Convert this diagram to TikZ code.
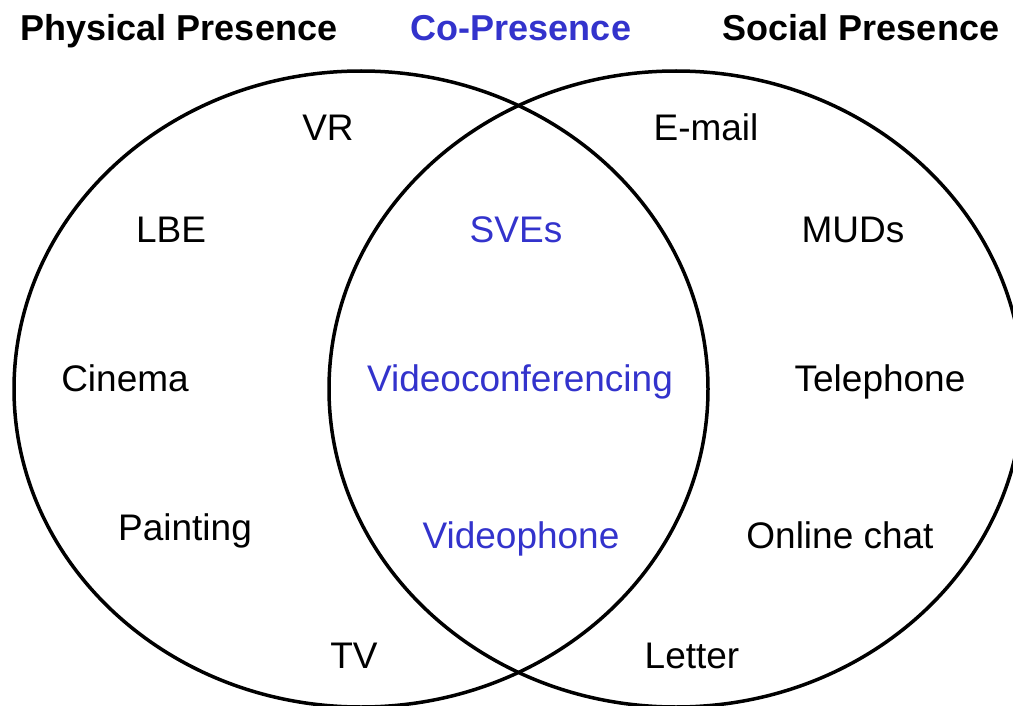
\documentclass[tikz,border=0pt]{standalone}
\usepackage{fontspec}
\setmainfont{Liberation Sans}
\usepackage{tikz}
\usetikzlibrary{shapes.geometric, positioning}
\definecolor{coblue}{RGB}{51,51,204}
\tikzset{
    heading/.style={font=\fontsize{36}{40}\selectfont\bfseries, text height=26pt, text depth=7pt, inner sep=0pt},
    medium/.style={font=\fontsize{37}{40}\selectfont, text height=27pt, text depth=7pt, inner sep=0pt},
    shared/.style={medium, text=coblue},
    presence/.style={ellipse, draw=black, line width=3.5pt, minimum width=694pt, minimum height=636pt, inner sep=0pt}
}

\begin{document}
\begin{tikzpicture}[x=1pt, y=-1pt]
        \useasboundingbox (0,0) rectangle (1013,706);
        % Circles
        \node (physical) at (361,389) [presence] {};
        \node (social) at (676,389) [presence] {};
        
        % Headings
        \node (hphys) at (179,31) [heading] {Physical Presence};
        \node (hco) at (521,31) [heading, text=coblue] {Co-Presence};
        \node (hsoc) at (861,31) [heading] {Social Presence};
        
        % Physical presence media
        \node (vr) at (328,131) [medium] {VR};
        \node (lbe) at (171,233) [medium] {LBE};
        \node (cinema) at (125,381) [medium] {Cinema};
        \node (painting) at (185,530) [medium] {Painting};
        \node (tv) at (354,658) [medium] {TV};
        
        % Co-presence media
        \node (sves) at (516,233) [shared] {SVEs};
        \node (vconf) at (520,381) [shared] {Videoconferencing};
        \node (vphone) at (521,538) [shared] {Videophone};
        
        % Social presence media
        \node (email) at (706,131) [medium] {E-mail};
        \node (muds) at (853,233) [medium] {MUDs};
        \node (phone) at (880,381) [medium] {Telephone};
        \node (chat) at (840,538) [medium] {Online chat};
        \node (letter) at (692,658) [medium] {Letter};
\end{tikzpicture}
\end{document}
